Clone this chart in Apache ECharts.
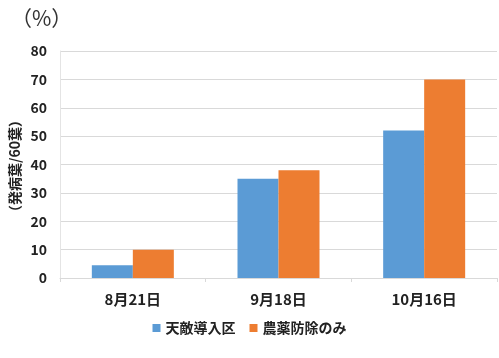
<!DOCTYPE html>
<html><head><meta charset="utf-8">
<script src="https://cdn.jsdelivr.net/npm/echarts@6/dist/echarts.min.js"></script>
<style>html,body{margin:0;padding:0;background:#fff}#c{width:499px;height:358px}</style>
</head><body><div id="c"></div>
<script>
const categories = ['8月21日', '9月18日', '10月16日'];
const seriesNames = ['天敵導入区', '農薬防除のみ'];
const natural = [4.5, 35, 52];
const pesticide = [10, 38, 70];
const yTicks = [0, 10, 20, 30, 40, 50, 60, 70, 80];

const font = '"Noto Sans CJK JP", "Noto Sans", sans-serif';
const chart = echarts.init(document.getElementById('c'), null, {renderer: 'canvas'});
chart.setOption({
  animation: false,
  textStyle: {fontFamily: font},
  grid: {left: 60, right: 2, top: 51, bottom: 80, containLabel: false},
  graphic: [
    {type: 'text', left: 11, top: 8, style: {text: '（%）', font: '21px ' + font, fill: '#333'}},
    {type: 'text', x: 15, y: 166, rotation: Math.PI / 2, style: {text: '（発病葉/60葉）', font: 'bold 14px ' + font, fill: '#222', textAlign: 'center', textVerticalAlign: 'middle'}}
  ],
  legend: {
    data: seriesNames, bottom: 18, left: 'center', itemWidth: 8, itemHeight: 8, itemGap: 14,
    icon: 'rect', textStyle: {fontSize: 14, fontWeight: 'bold', color: '#222', fontFamily: font}
  },
  xAxis: {
    type: 'category', data: categories,
    axisLine: {lineStyle: {color: '#d9d9d9'}},
    axisTick: {show: true, length: 4, lineStyle: {color: '#d9d9d9'}},
    axisLabel: {fontSize: 15, fontWeight: 'bold', color: '#222', margin: 14, fontFamily: font}
  },
  yAxis: {
    type: 'value', min: yTicks[0], max: yTicks[yTicks.length - 1], interval: 10,
    axisLine: {show: true, lineStyle: {color: '#e4e4e4'}},
    axisTick: {show: false},
    splitLine: {lineStyle: {color: '#d9d9d9'}},
    axisLabel: {fontSize: 14, fontWeight: 'bold', color: '#222', margin: 13, fontFamily: font}
  },
  series: [
    {name: seriesNames[0], type: 'bar', data: natural, barWidth: 41, barGap: '0%', itemStyle: {color: '#5b9bd5'}},
    {name: seriesNames[1], type: 'bar', data: pesticide, barWidth: 41, barGap: '0%', itemStyle: {color: '#ed7d31'}}
  ]
});
</script></body></html>
